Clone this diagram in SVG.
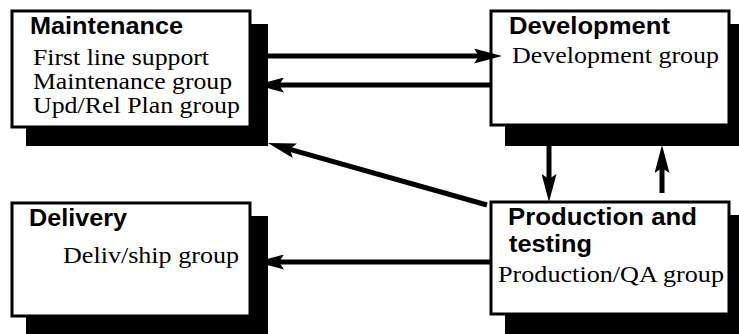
<svg xmlns="http://www.w3.org/2000/svg" width="739" height="334" viewBox="0 0 739 334">
  <style>
    .shadow { fill: #000; }
    .box { fill: #fff; stroke: #000; stroke-width: 3; }
    .title { font-family: "Liberation Sans", Arial, sans-serif; font-weight: bold; font-size: 23px; fill: #000; }
    .item { font-family: "Liberation Serif", "Times New Roman", serif; font-size: 23px; fill: #000; }
    .flow { fill: none; stroke: #000; stroke-width: 5; marker-end: url(#head); }
  </style>
  <defs>
    <marker id="head" viewBox="0 0 28 15" refX="5" refY="7.5" markerWidth="28" markerHeight="15" markerUnits="userSpaceOnUse" orient="auto">
      <path d="M28,7.5 L0,0 L5,7.5 L0,15 Z" fill="#000"/>
    </marker>
  </defs>

  <rect width="739" height="334" fill="#fff"/>

  <g id="maintenance">
    <rect class="shadow" x="26" y="24" width="242" height="122"/>
    <rect class="box" x="12" y="11" width="238" height="116"/>
    <text class="title" x="30" y="34" textLength="153" lengthAdjust="spacingAndGlyphs">Maintenance</text>
    <text class="item" x="33" y="65" textLength="176" lengthAdjust="spacingAndGlyphs">First line support</text>
    <text class="item" x="33" y="89" textLength="199" lengthAdjust="spacingAndGlyphs">Maintenance group</text>
    <text class="item" x="33" y="113" textLength="207" lengthAdjust="spacingAndGlyphs">Upd/Rel Plan group</text>
  </g>

  <g id="development">
    <rect class="shadow" x="505" y="24" width="240" height="122"/>
    <rect class="box" x="491" y="11" width="238" height="114"/>
    <text class="title" x="509" y="34" textLength="161" lengthAdjust="spacingAndGlyphs">Development</text>
    <text class="item" x="512" y="63" textLength="207" lengthAdjust="spacingAndGlyphs">Development group</text>
  </g>

  <g id="delivery">
    <rect class="shadow" x="26" y="216" width="242" height="130"/>
    <rect class="box" x="12" y="203" width="238" height="113"/>
    <text class="title" x="29" y="226" textLength="98" lengthAdjust="spacingAndGlyphs">Delivery</text>
    <text class="item" x="63" y="263" textLength="176" lengthAdjust="spacingAndGlyphs">Deliv/ship group</text>
  </g>

  <g id="production">
    <rect class="shadow" x="505" y="215" width="240" height="130"/>
    <rect class="box" x="491" y="202" width="238" height="112"/>
    <text class="title" x="508" y="225" textLength="189" lengthAdjust="spacingAndGlyphs">Production and</text>
    <text class="title" x="509" y="252" textLength="83" lengthAdjust="spacingAndGlyphs">testing</text>
    <text class="item" x="498" y="282" textLength="226" lengthAdjust="spacingAndGlyphs">Production/QA group</text>
  </g>

  <g id="connectors">
    <line class="flow" x1="268" y1="56" x2="479" y2="56"/>
    <line class="flow" x1="490" y1="85" x2="279" y2="85"/>
    <line class="flow" x1="487" y1="205" x2="290" y2="149.3"/>
    <line class="flow" x1="549" y1="146" x2="549" y2="179"/>
    <line class="flow" x1="662" y1="193" x2="662" y2="168"/>
    <line class="flow" x1="490" y1="262" x2="279" y2="262"/>
  </g>
</svg>
